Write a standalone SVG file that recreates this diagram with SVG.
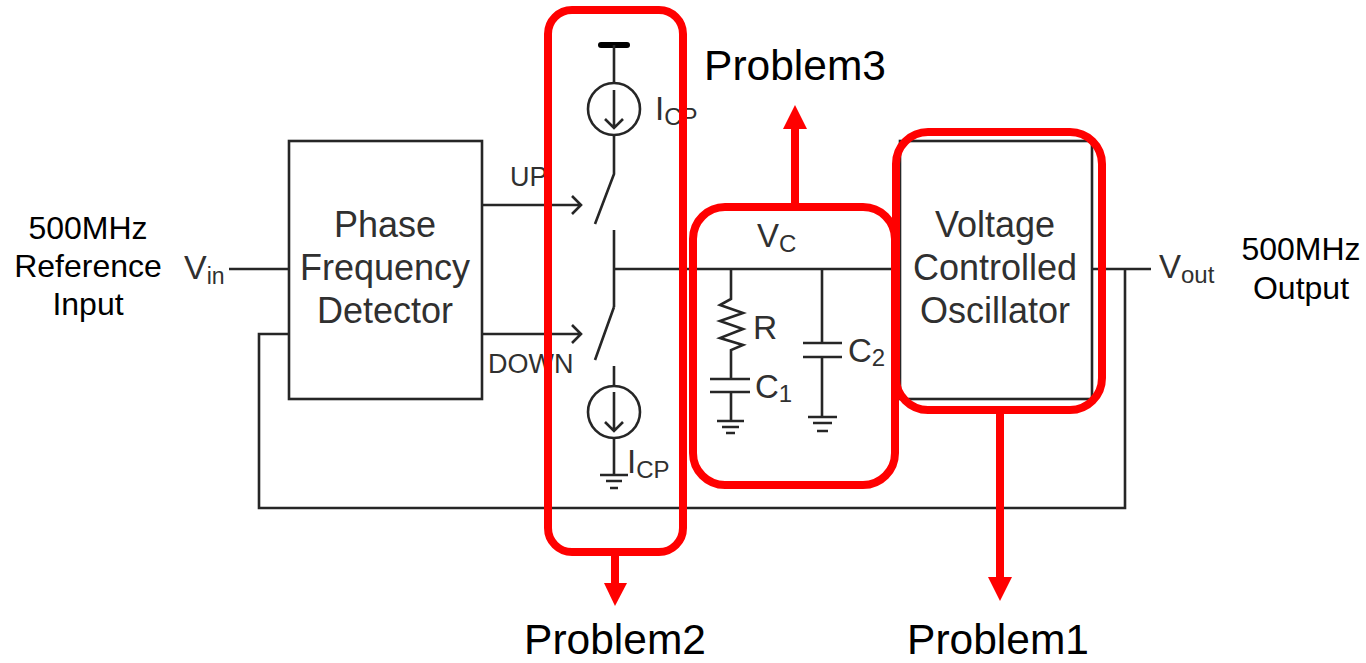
<svg xmlns="http://www.w3.org/2000/svg" width="1366" height="663" viewBox="0 0 1366 663">
<style>
.w{fill:none;stroke:#262626;stroke-width:2.6}
.b{font-family:"Liberation Sans",Arial,sans-serif;fill:#303030}
.t{font-family:"Liberation Sans",Arial,sans-serif;fill:#000}
.n{font-size:36px;text-anchor:middle}
.l{font-size:32px;text-anchor:middle}
.p{font-size:42.5px;text-anchor:middle}
.r{fill:none;stroke:#f00;stroke-width:8}
.h{fill:#f00}
</style>
<rect width="1366" height="663" fill="#fff"/>
<g id="connectors">
<path class="w" d="M229 269H289M482 205H580M572 196L581 205L572 214M482 334H580M572 325L581 334L572 343"/>
<path class="w" d="M289 334H259V508H1125V269M1092 269H1151"/>
<path class="w" d="M614 230V307M614 269H900"/>
</g>
<g id="pfd"><rect class="w" x="289" y="141" width="193" height="258"/>
<text class="b n" x="385" y="237">Phase</text>
<text class="b n" x="385" y="280">Frequency</text>
<text class="b n" x="385" y="323">Detector</text></g>
<g id="vco"><rect class="w" x="900" y="141" width="192" height="258"/>
<text class="b n" x="995" y="237">Voltage</text>
<text class="b n" x="995" y="280">Controlled</text>
<text class="b n" x="995" y="323">Oscillator</text></g>
<g id="charge-pump">
<path d="M601 45H627" stroke="#000" stroke-width="6" stroke-linecap="round" fill="none"/>
<path class="w" d="M614 45V83M614 135V174L595 224"/>
<circle class="w" cx="614" cy="109" r="26"/>
<path class="w" d="M614 90V128M605 119L614 128L623 119"/>
<path class="w" d="M614 307L595 360M614 366V386M614 438V475"/>
<circle class="w" cx="614" cy="412" r="26"/>
<path class="w" d="M614 392V431M605 422L614 431L623 422"/>
<path class="w" d="M600 475H628M606 481H622M610 488H618"/>
<text class="b" font-size="33" x="655" y="120">I<tspan font-size="24" dy="5">CP</tspan></text>
<text class="b" font-size="33" x="627" y="473">I<tspan font-size="24" dy="5">CP</tspan></text>
<text class="b" font-size="27" x="510" y="186">UP</text>
<text class="b" font-size="27" x="488" y="373">DOWN</text>
</g>
<g id="filter">
<path class="w" d="M731 269V299L720 305L743 313L720 321L743 329L720 338L743 345L731 350V379M731 392V421M710 379H750M710 392H750M717 421H744M722 427H739M726 433H735"/>
<path class="w" d="M822 269V343M822 357V417M803 343H842M803 357H842M808 417H837M813 423H832M817 431H828"/>
<text class="b" font-size="33" x="757" y="247">V<tspan font-size="24" dy="5">C</tspan></text>
<text class="b" font-size="33.5" x="753" y="339">R</text>
<text class="b" font-size="33" x="755" y="398">C<tspan font-size="24" dy="4">1</tspan></text>
<text class="b" font-size="33" x="848" y="362">C<tspan font-size="24" dy="4">2</tspan></text>
</g>
<g id="io-labels">
<text class="b" font-size="34" x="184" y="279">V<tspan font-size="23" dy="5">in</tspan></text>
<text class="b" font-size="33" x="1159" y="278">V<tspan font-size="24" dy="5">out</tspan></text>
<text class="t l" x="88" y="239">500MHz</text>
<text class="t l" x="88" y="277">Reference</text>
<text class="t l" x="88" y="315">Input</text>
<text class="t l" x="1301" y="260">500MHz</text>
<text class="t l" x="1301" y="299">Output</text>
</g>
<g id="problem2"><rect class="r" x="548" y="10" width="135" height="542" rx="24"/>
<path class="r" d="M615 552V584"/><path class="h" d="M604 583H627L615 606Z"/>
<text class="t p" x="615" y="654">Problem2</text></g>
<g id="problem3"><rect class="r" x="693" y="207" width="202" height="278" rx="32"/>
<path class="r" d="M795 207V128"/><path class="h" d="M783 129H807L795 105Z"/>
<text class="t p" x="795" y="80">Problem3</text></g>
<g id="problem1"><rect class="r" x="896" y="132" width="206" height="278" rx="32"/>
<path class="r" d="M1000 410V578"/><path class="h" d="M988 577H1012L1000 601Z"/>
<text class="t p" x="998" y="654">Problem1</text></g>
</svg>
